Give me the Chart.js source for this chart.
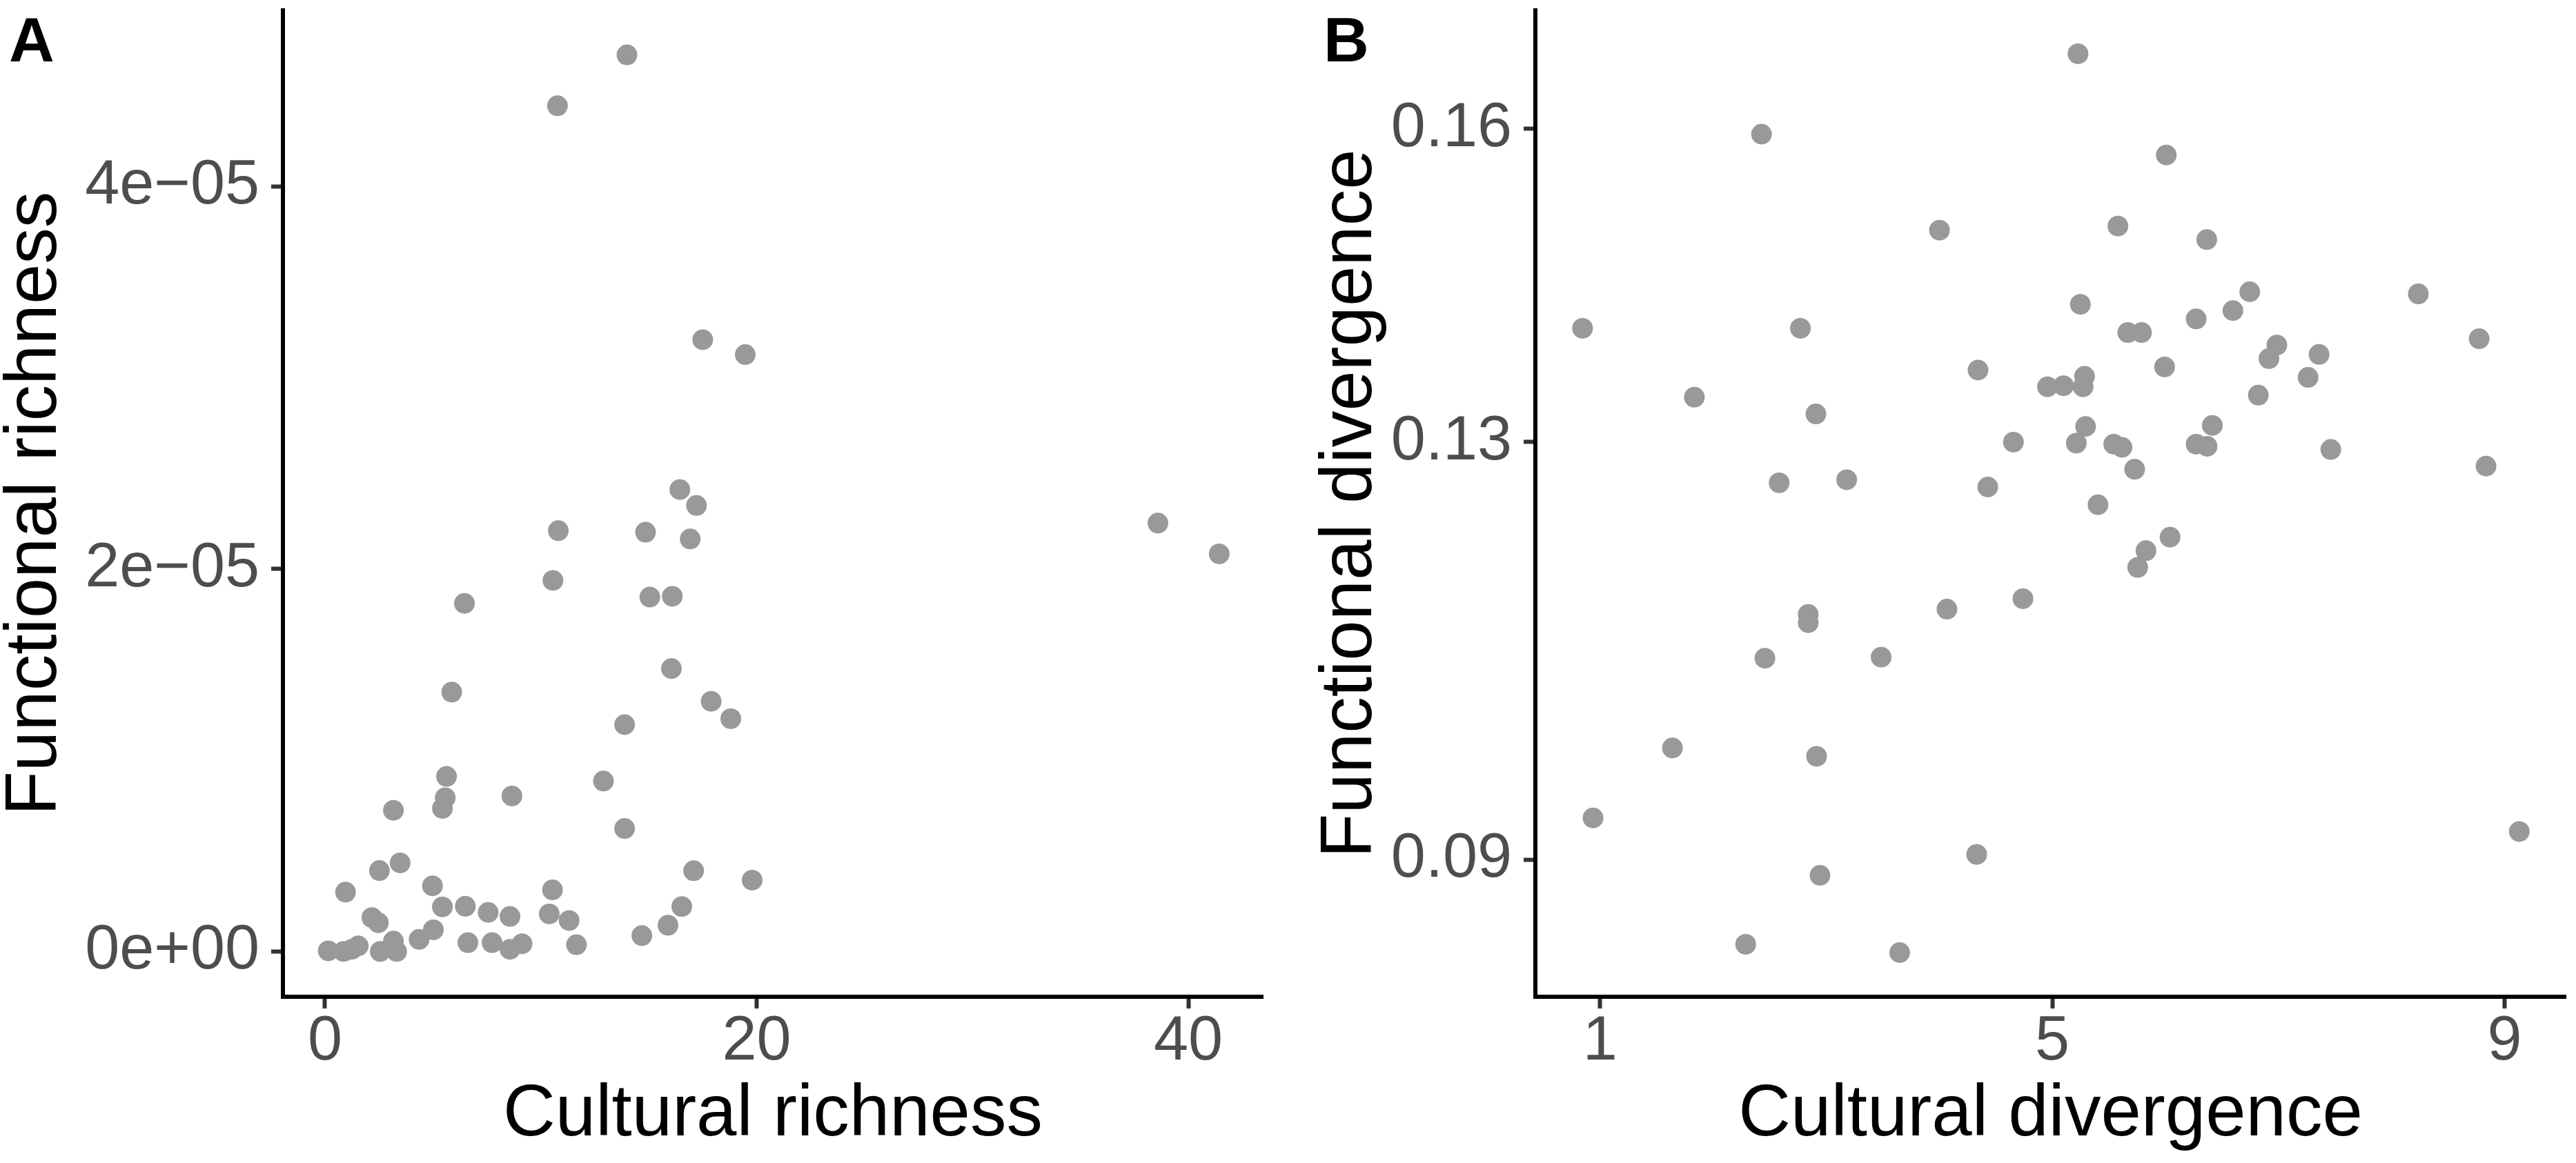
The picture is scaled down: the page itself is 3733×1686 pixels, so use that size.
<!DOCTYPE html>
<html>
<head>
<meta charset="utf-8">
<script src="https://cdn.jsdelivr.net/npm/chart.js@4.4.1/dist/chart.umd.min.js"></script>
<style>
  body { margin: 0; background: #ffffff; }
  #wrap { position: relative; width: 3733px; height: 1686px; overflow: hidden; }
  canvas { position: absolute; top: 0; }
  .tag {
    position: absolute; top: 12px;
    font: bold 91px "Liberation Sans", Arial, sans-serif;
    line-height: 1; color: #000000;
  }
</style>
</head>
<body>
<div id="wrap">
  <canvas id="panel-a" width="1866" height="1686" style="left:0"></canvas>
  <canvas id="panel-b" width="1867" height="1686" style="left:1866px"></canvas>
  <div class="tag" style="left:13px">A</div>
  <div class="tag" style="left:1918px">B</div>
</div>
<script>
// Panel A: cultural richness vs functional richness
const culturalRichness = [
  13.99, 10.77, 17.50, 19.47, 16.44, 17.21, 10.81, 14.85, 16.92, 10.56,
  15.05, 16.09, 6.46, 38.59, 41.43, 16.05, 5.87, 17.89, 18.80, 13.88,
  5.63, 12.90, 5.57, 5.44, 8.66, 3.17, 13.88, 3.48, 2.52, 17.08,
  19.79, 0.95, 4.98, 10.54, 5.44, 6.50, 7.56, 8.57, 16.53, 10.39,
  11.31, 2.17, 2.47, 15.89, 5.02, 4.36, 14.68, 6.62, 7.74, 9.13,
  8.57, 11.65, 0.15, 0.86, 1.24, 1.54, 2.56, 3.17, 3.32,
];
const functionalRichness = [
  4.688e-5, 4.422e-5, 3.199e-5, 3.121e-5, 2.415e-5, 2.332e-5, 2.200e-5, 2.192e-5, 2.157e-5, 1.940e-5,
  1.853e-5, 1.857e-5, 1.820e-5, 2.240e-5, 2.079e-5, 1.479e-5, 1.356e-5, 1.308e-5, 1.217e-5, 1.186e-5,
  0.915e-5, 0.891e-5, 0.804e-5, 0.748e-5, 0.813e-5, 0.738e-5, 0.643e-5, 0.463e-5, 0.423e-5, 0.422e-5,
  0.373e-5, 0.310e-5, 0.343e-5, 0.322e-5, 0.233e-5, 0.236e-5, 0.204e-5, 0.183e-5, 0.235e-5, 0.196e-5,
  0.162e-5, 0.177e-5, 0.150e-5, 0.137e-5, 0.113e-5, 0.063e-5, 0.083e-5, 0.046e-5, 0.046e-5, 0.040e-5,
  0.011e-5, 0.035e-5, 0.003e-5, 0.000e-5, 0.011e-5, 0.029e-5, 0.000e-5, 0.054e-5, 0.000e-5,
];
const richnessXTicks = [0, 20, 40];
const richnessXLabels = ["0", "20", "40"];
const richnessYTicks = [0, 2e-5, 4e-5];
const richnessYLabels = ["0e+00", "2e\u221205", "4e\u221205"];

// Panel B: cultural divergence vs functional divergence
const culturalDivergence = [
  2.428, 4.002, 0.845, 2.772, 4.343, 1.834, 2.909, 4.656, 2.584, 3.181,
  4.429, 2.841, 2.841, 4.068, 4.740, 2.458, 3.486, 1.640, 2.915, 0.938,
  4.331, 2.945, 2.288, 3.650, 5.227, 6.008, 5.580, 6.366, 6.746, 8.237,
  5.248, 6.597, 6.272, 5.667, 5.789, 8.775, 6.986, 7.359, 6.916, 5.993,
  7.262, 5.285, 4.957, 5.099, 5.272, 6.822, 5.294, 6.415, 5.212, 5.543,
  5.616, 6.272, 6.369, 7.463, 8.836, 5.728, 5.404, 6.041, 5.828, 5.755,
  9.130,
];
const functionalDivergence = [
  0.1595, 0.1503, 0.1409, 0.1409, 0.1369, 0.1343, 0.1327, 0.1300, 0.1261, 0.1264,
  0.1257, 0.1135, 0.1127, 0.1140, 0.1150, 0.1093, 0.1094, 0.1007, 0.0999, 0.0940,
  0.0905, 0.0885, 0.0819, 0.0811, 0.1672, 0.1575, 0.1507, 0.1494, 0.1444, 0.1442,
  0.1432, 0.1426, 0.1418, 0.1405, 0.1405, 0.1399, 0.1393, 0.1384, 0.1380, 0.1372,
  0.1362, 0.1363, 0.1353, 0.1354, 0.1353, 0.1345, 0.1315, 0.1316, 0.1299, 0.1298,
  0.1295, 0.1298, 0.1296, 0.1293, 0.1277, 0.1274, 0.1240, 0.1209, 0.1196, 0.1180,
  0.0927,
];
const divergenceXTicks = [1, 5, 9];
const divergenceXLabels = ["1", "5", "9"];
const divergenceYTicks = [0.09, 0.13, 0.16];
const divergenceYLabels = ["0.09", "0.13", "0.16"];

const FONT = '"Liberation Sans", Arial, sans-serif';

function axis(horizontal, range, ticks, labels, title, boxSize, titlePad) {
  return {
    type: "linear",
    position: horizontal ? "bottom" : "left",
    min: range[0],
    max: range[1],
    afterBuildTicks: (scale) => {
      scale.ticks = ticks.map((v) => ({ value: v }));
    },
    afterFit: (scale) => {
      if (horizontal) scale.height = boxSize;
      else scale.width = boxSize;
      // ticks sit well inside the range, so no overflow padding is needed
      scale.paddingTop = 0;
      scale.paddingBottom = 0;
      scale.paddingLeft = 0;
      scale.paddingRight = 0;
    },
    ticks: {
      autoSkip: false,
      maxRotation: 0,
      padding: horizontal ? 4 : 17,
      color: "#4d4d4d",
      font: { family: FONT, size: 90, lineHeight: 1 },
      callback: (value, index) => labels[index],
    },
    grid: {
      drawOnChartArea: false,
      drawTicks: true,
      tickLength: 17,
      tickWidth: 6,
      tickColor: "#333333",
    },
    border: { display: true, color: "#000000", width: 6 },
    title: {
      display: true,
      text: title,
      color: "#000000",
      font: { family: FONT, size: 105, lineHeight: 1 },
      padding: horizontal ? { top: 0, bottom: titlePad } : { top: titlePad, bottom: 0 },
    },
  };
}

function makePanel(canvasId, xs, ys, opts) {
  new Chart(document.getElementById(canvasId), {
    type: "scatter",
    data: {
      datasets: [
        {
          data: xs.map((x, i) => ({ x: x, y: ys[i] })),
          backgroundColor: "#999999",
          borderWidth: 0,
          pointRadius: 15,
          pointHoverRadius: 15,
        },
      ],
    },
    options: {
      responsive: false,
      animation: false,
      devicePixelRatio: 1,
      layout: { padding: opts.padding },
      plugins: { legend: { display: false }, tooltip: { enabled: false } },
      scales: {
        x: axis(true, opts.xRange, opts.xTicks, opts.xLabels, opts.xTitle, 241, 16),
        y: axis(false, opts.yRange, opts.yTicks, opts.yLabels, opts.yTitle, opts.yWidth, opts.yTitlePad),
      },
    },
  });
}

makePanel("panel-a", culturalRichness, functionalRichness, {
  padding: { left: 0, right: 36, top: 10, bottom: 0 },
  xRange: [-1.95, 43.45],
  yRange: [-0.237e-5, 4.921e-5],
  xTicks: richnessXTicks,
  xLabels: richnessXLabels,
  yTicks: richnessYTicks,
  yLabels: richnessYLabels,
  xTitle: "Cultural richness",
  yTitle: "Functional richness",
  yWidth: 410,
  yTitlePad: 0,
});

makePanel("panel-b", culturalDivergence, functionalDivergence, {
  padding: { left: 0, right: 10, top: 12, bottom: 0 },
  xRange: [0.428, 9.54],
  yRange: [0.07687, 0.17136],
  xTicks: divergenceXTicks,
  xLabels: divergenceXLabels,
  yTicks: divergenceYTicks,
  yLabels: divergenceYLabels,
  xTitle: "Cultural divergence",
  yTitle: "Functional divergence",
  yWidth: 359,
  yTitlePad: 40,
});
</script>
</body>
</html>
